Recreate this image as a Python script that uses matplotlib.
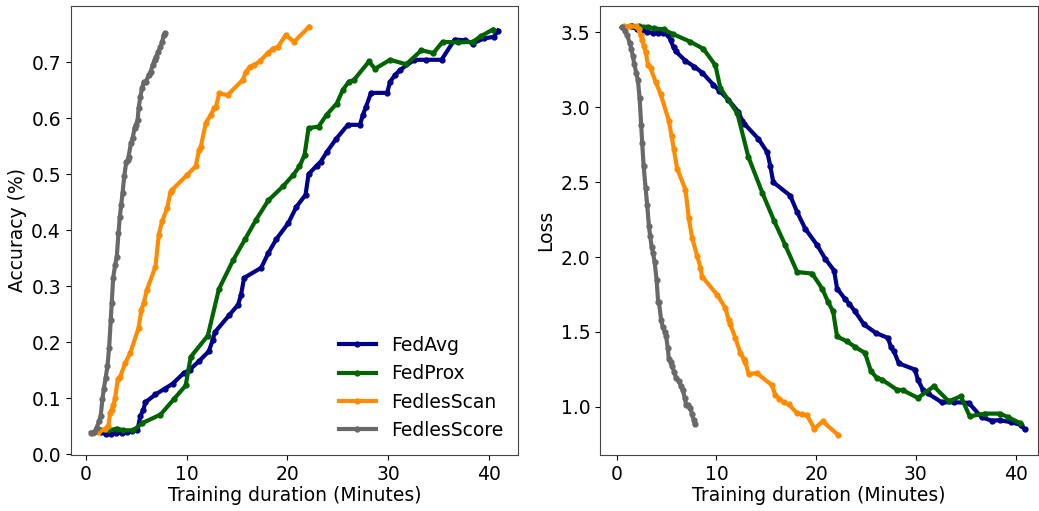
import matplotlib
matplotlib.use("Agg")
import matplotlib.pyplot as plt

# Training time (minutes) at each evaluated round, per strategy
fedavg_time = [1.5, 2.0, 2.5, 3.0, 3.6, 4.1, 4.6, 5.1, 5.4, 5.7, 5.9, 6.9, 7.8, 8.6,
               9.7, 10.3, 11.2, 12.2, 12.6, 12.8, 14.2, 15.1, 15.4, 15.7, 17.4, 18.1,
               18.9, 20.1, 20.9, 21.8, 22.1, 22.9, 23.3, 23.9, 24.8, 26.0, 27.2, 27.5,
               27.8, 28.3, 29.9, 30.2, 30.7, 31.2, 32.6, 33.8, 35.3, 36.6, 37.6, 38.4,
               39.5, 40.5, 40.9]
fedavg_acc = [0.040, 0.036, 0.037, 0.038, 0.038, 0.040, 0.041, 0.043, 0.068, 0.080,
              0.093, 0.107, 0.117, 0.126, 0.145, 0.151, 0.166, 0.184, 0.205, 0.218,
              0.248, 0.267, 0.285, 0.315, 0.333, 0.359, 0.384, 0.413, 0.442, 0.463,
              0.500, 0.515, 0.522, 0.539, 0.562, 0.588, 0.588, 0.606, 0.620, 0.645,
              0.645, 0.665, 0.677, 0.686, 0.704, 0.704, 0.704, 0.740, 0.739, 0.733,
              0.742, 0.745, 0.756]
fedavg_loss = [3.540, 3.525, 3.513, 3.505, 3.497, 3.497, 3.495, 3.485, 3.450, 3.400,
               3.375, 3.310, 3.270, 3.230, 3.150, 3.110, 3.050, 2.970, 2.910, 2.890,
               2.790, 2.700, 2.610, 2.500, 2.410, 2.300, 2.190, 2.080, 1.990, 1.910,
               1.790, 1.720, 1.690, 1.637, 1.550, 1.493, 1.460, 1.400, 1.370, 1.290,
               1.249, 1.182, 1.115, 1.090, 1.030, 1.031, 1.027, 0.930, 0.908, 0.911,
               0.898, 0.880, 0.850]

fedprox_time = [1.4, 2.2, 3.1, 3.7, 4.7, 5.6, 7.4, 8.7, 9.9, 10.4, 12.1, 13.2, 14.6,
                15.8, 16.9, 18.1, 19.6, 20.6, 21.2, 21.7, 22.1, 23.1, 23.9, 24.9,
                25.5, 26.1, 26.6, 28.1, 28.7, 30.2, 31.8, 33.3, 34.5, 35.4, 36.9,
                38.4, 39.2, 40.4]
fedprox_acc = [0.044, 0.043, 0.046, 0.043, 0.043, 0.056, 0.071, 0.098, 0.123, 0.174,
               0.212, 0.295, 0.346, 0.384, 0.419, 0.453, 0.479, 0.499, 0.514, 0.534,
               0.582, 0.585, 0.606, 0.626, 0.650, 0.665, 0.668, 0.701, 0.688, 0.704,
               0.696, 0.721, 0.716, 0.736, 0.735, 0.736, 0.746, 0.758]
fedprox_loss = [3.540, 3.540, 3.537, 3.527, 3.520, 3.490, 3.437, 3.390, 3.280, 3.127,
                2.960, 2.670, 2.430, 2.240, 2.080, 1.900, 1.890, 1.790, 1.700, 1.637,
                1.470, 1.437, 1.400, 1.360, 1.237, 1.193, 1.182, 1.115, 1.111, 1.060,
                1.137, 1.037, 1.071, 0.937, 0.955, 0.955, 0.933, 0.893]

fedlesscan_time = [0.73, 1.23, 1.9, 2.23, 2.4, 2.56, 2.73, 2.9, 3.16, 3.4, 3.9, 4.4,
                   5.23, 5.5, 5.73, 6.06, 6.9, 7.23, 7.56, 8.06, 8.4, 8.56, 10.06,
                   10.9, 11.23, 11.4, 11.9, 12.4, 12.73, 12.9, 13.23, 14.06, 15.56,
                   15.9, 16.3, 16.73, 17.23, 18.06, 18.56, 19.06, 19.83, 20.66, 22.16]
fedlesscan_acc = [0.039, 0.040, 0.045, 0.051, 0.074, 0.080, 0.089, 0.101, 0.134,
                  0.139, 0.163, 0.181, 0.226, 0.258, 0.270, 0.294, 0.335, 0.392,
                  0.416, 0.439, 0.469, 0.472, 0.499, 0.514, 0.543, 0.549, 0.591,
                  0.606, 0.618, 0.620, 0.644, 0.641, 0.668, 0.683, 0.692, 0.695,
                  0.701, 0.716, 0.724, 0.727, 0.748, 0.736, 0.763]
fedlesscan_loss = [3.540, 3.540, 3.540, 3.520, 3.480, 3.450, 3.410, 3.370, 3.280,
                   3.260, 3.170, 3.090, 2.910, 2.810, 2.720, 2.590, 2.450, 2.260,
                   2.130, 2.010, 1.930, 1.870, 1.750, 1.660, 1.580, 1.550, 1.460,
                   1.360, 1.320, 1.300, 1.220, 1.225, 1.145, 1.080, 1.055, 1.030,
                   1.018, 0.960, 0.950, 0.945, 0.855, 0.903, 0.815]

fedlesscore_time = [0.5, 0.83, 1.06, 1.3, 1.46, 1.63, 1.76, 1.96, 2.13, 2.3, 2.46,
                    2.56, 2.7, 2.9, 3.06, 3.23, 3.36, 3.5, 3.63, 3.8, 4.0, 4.16, 4.23,
                    4.46, 4.63, 4.83, 4.96, 5.13, 5.23, 5.4, 5.56, 5.76, 5.96, 6.23,
                    6.43, 6.63, 6.83, 6.96, 7.16, 7.4, 7.56, 7.73, 7.83]
fedlesscore_acc = [0.039, 0.040, 0.048, 0.059, 0.068, 0.098, 0.116, 0.137, 0.157,
                   0.190, 0.240, 0.270, 0.315, 0.338, 0.353, 0.395, 0.424, 0.445,
                   0.466, 0.496, 0.522, 0.525, 0.531, 0.555, 0.564, 0.582, 0.588,
                   0.597, 0.618, 0.638, 0.653, 0.665, 0.665, 0.677, 0.683, 0.695,
                   0.704, 0.709, 0.718, 0.727, 0.736, 0.748, 0.751]
fedlesscore_loss = [3.533, 3.510, 3.480, 3.430, 3.390, 3.340, 3.290, 3.230, 3.180,
                    3.060, 2.880, 2.760, 2.610, 2.460, 2.350, 2.210, 2.140, 2.070,
                    2.030, 1.970, 1.850, 1.700, 1.700, 1.580, 1.530, 1.500, 1.470,
                    1.390, 1.320, 1.300, 1.270, 1.235, 1.190, 1.175, 1.140, 1.110,
                    1.060, 1.015, 1.015, 0.990, 0.950, 0.910, 0.885]

strategies = ["FedAvg", "FedProx", "FedlesScan", "FedlesScore"]
colors = ["darkblue", "darkgreen", "darkorange", "dimgray"]
times = [fedavg_time, fedprox_time, fedlesscan_time, fedlesscore_time]
accuracies = [fedavg_acc, fedprox_acc, fedlesscan_acc, fedlesscore_acc]
losses = [fedavg_loss, fedprox_loss, fedlesscan_loss, fedlesscore_loss]

plt.rcParams["font.family"] = ["DejaVu Sans"]
plt.rcParams["font.size"] = 13.5

fig = plt.figure(figsize=(10.39, 5.11), dpi=100)
ax_acc = fig.add_axes([0.068, 0.1096, 0.4308, 0.8787])
ax_loss = fig.add_axes([0.5775, 0.1096, 0.4211, 0.8787])

line_kw = dict(linewidth=3, marker="o", markersize=3.5)

for name, color, t, acc, loss in zip(strategies, colors, times, accuracies, losses):
    ax_acc.plot(t, acc, color=color, label=name, **line_kw)
    ax_loss.plot(t, loss, color=color, label=name, **line_kw)

ax_acc.set_xlabel("Training duration (Minutes)", labelpad=2)
ax_acc.set_ylabel("Accuracy (%)", labelpad=3)
ax_acc.set_yticks([0.0, 0.1, 0.2, 0.3, 0.4, 0.5, 0.6, 0.7])
ax_acc.set_xticks([0, 10, 20, 30, 40])
ax_acc.set_ylim(-0.001, 0.80)
ax_acc.legend(loc="lower right", frameon=False, fontsize=13.5,
              handlelength=2.0, borderaxespad=0.4)

ax_loss.set_xlabel("Training duration (Minutes)", labelpad=2)
ax_loss.set_ylabel("Loss", labelpad=4)
ax_loss.set_yticks([1.0, 1.5, 2.0, 2.5, 3.0, 3.5])
ax_loss.set_xticks([0, 10, 20, 30, 40])
ax_loss.set_xlim(-1.67, 42.2)

for ax in (ax_acc, ax_loss):
    for spine in ax.spines.values():
        spine.set_color("#444444")

fig.savefig("out.png", dpi=100)
